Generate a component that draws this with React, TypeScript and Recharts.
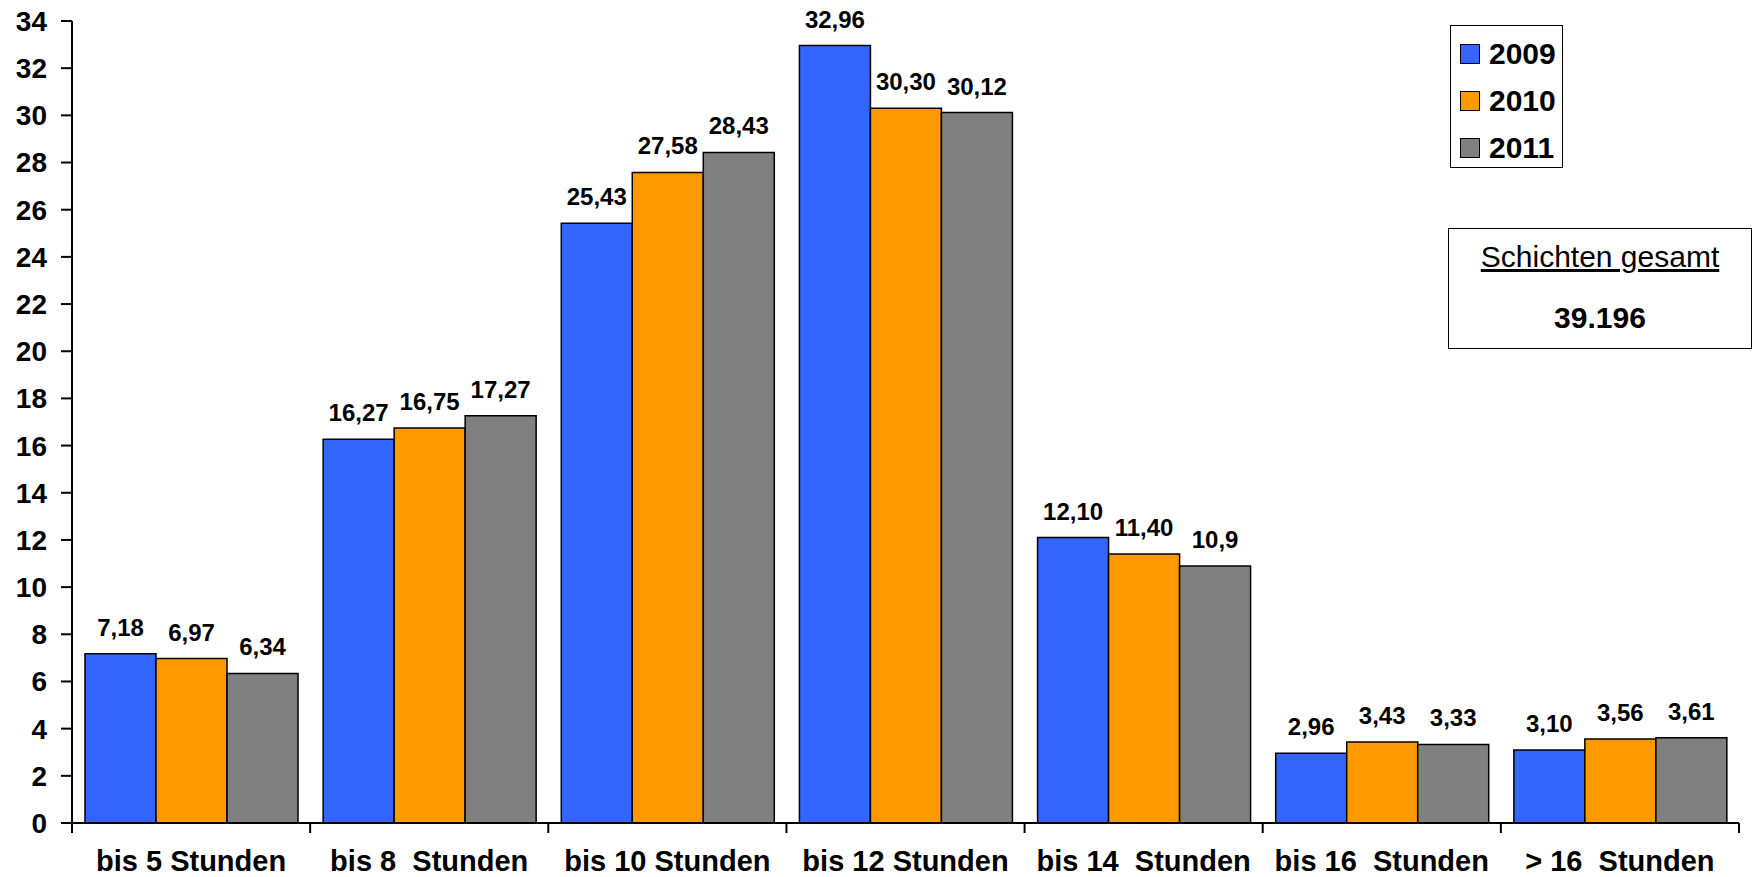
import React from 'react';
import { BarChart, Bar, XAxis, YAxis, LabelList, Legend } from 'recharts';

const categories = ['bis 5 Stunden', 'bis 8  Stunden', 'bis 10 Stunden', 'bis 12 Stunden', 'bis 14  Stunden', 'bis 16  Stunden', '> 16  Stunden'];
const values2009 = [7.18, 16.27, 25.43, 32.96, 12.1, 2.96, 3.1];
const values2010 = [6.97, 16.75, 27.58, 30.3, 11.4, 3.43, 3.56];
const values2011 = [6.34, 17.27, 28.43, 30.12, 10.9, 3.33, 3.61];
const labels2009 = ['7,18', '16,27', '25,43', '32,96', '12,10', '2,96', '3,10'];
const labels2010 = ['6,97', '16,75', '27,58', '30,30', '11,40', '3,43', '3,56'];
const labels2011 = ['6,34', '17,27', '28,43', '30,12', '10,9', '3,33', '3,61'];
const yTicks = [0, 2, 4, 6, 8, 10, 12, 14, 16, 18, 20, 22, 24, 26, 28, 30, 32, 34];
const seriesNames = ['2009', '2010', '2011'];
const seriesColors = ['#3366FF', '#FF9900', '#808080'];

const data = categories.map((c, i) => ({
  name: c,
  v2009: values2009[i],
  v2010: values2010[i],
  v2011: values2011[i],
  l2009: labels2009[i],
  l2010: labels2010[i],
  l2011: labels2011[i],
}));

const FONT = '"Liberation Sans", Arial, sans-serif';

const XTick = (props: any) => {
  const { x, y, payload, index } = props;
  const off = payload && payload.offset ? payload.offset : 0;
  return (
    <g>
      <line x1={x - off} x2={x - off} y1={y} y2={y + 10} stroke="#000" strokeWidth={2} />
      {index === categories.length - 1 && (
        <line x1={x + off} x2={x + off} y1={y} y2={y + 10} stroke="#000" strokeWidth={2} />
      )}
      <text
        x={x}
        y={y + 48}
        textAnchor="middle"
        fill="#000"
        style={{ whiteSpace: 'pre', fontSize: 29, fontWeight: 700, fontFamily: FONT }}
      >
        {payload.value}
      </text>
    </g>
  );
};

const LegendContent = () => (
  <div
    style={{
      width: 113,
      height: 143,
      border: '1.5px solid #000',
      background: '#fff',
      boxSizing: 'border-box',
      paddingTop: 4,
    }}
  >
    {seriesNames.map((n, i) => (
      <div key={n} style={{ display: 'flex', alignItems: 'center', height: 47, paddingLeft: 9 }}>
        <div style={{ width: 20, height: 20, background: seriesColors[i], border: '1.5px solid #000', boxSizing: 'border-box' }} />
        <span style={{ marginLeft: 9, fontSize: 30, fontWeight: 700, fontFamily: FONT, color: '#000', lineHeight: '34px' }}>{n}</span>
      </div>
    ))}
  </div>
);

const labelStyle = { fontSize: 24, fontWeight: 700, fontFamily: FONT, fill: '#000' };

export default function App() {
  return (
    <div style={{ position: 'absolute', left: 0, top: 0, width: 1753, height: 877, background: '#fff' }}>
      <BarChart
        width={1753}
        height={877}
        data={data}
        margin={{ top: 21, right: 14, left: 0, bottom: 0 }}
        barCategoryGap={13}
        barGap={0}
      >
        <XAxis
          dataKey="name"
          height={54}
          interval={0}
          tickLine={false}
          tickSize={0}
          tickMargin={0}
          axisLine={{ stroke: '#000', strokeWidth: 2 }}
          tick={<XTick />}
        />
        <YAxis
          width={72}
          domain={[0, 34]}
          ticks={yTicks}
          interval={0}
          tickSize={11}
          tickMargin={14}
          axisLine={{ stroke: '#000', strokeWidth: 2 }}
          tickLine={{ stroke: '#000', strokeWidth: 2 }}
          tick={{ fontSize: 28, fontWeight: 700, fontFamily: FONT, fill: '#000' }}
        />
        <Legend
          layout="vertical"
          verticalAlign="middle"
          align="center"
          content={<LegendContent />}
          wrapperStyle={{ position: 'absolute', left: 1450, top: 25, width: 113 }}
        />
        <Bar dataKey="v2009" name="2009" fill={seriesColors[0]} stroke="#000" strokeWidth={1.5} isAnimationActive={false}>
          <LabelList dataKey="l2009" position="top" offset={18} style={labelStyle} />
        </Bar>
        <Bar dataKey="v2010" name="2010" fill={seriesColors[1]} stroke="#000" strokeWidth={1.5} isAnimationActive={false}>
          <LabelList dataKey="l2010" position="top" offset={18} style={labelStyle} />
        </Bar>
        <Bar dataKey="v2011" name="2011" fill={seriesColors[2]} stroke="#000" strokeWidth={1.5} isAnimationActive={false}>
          <LabelList dataKey="l2011" position="top" offset={18} style={labelStyle} />
        </Bar>
      </BarChart>
      <div
        style={{
          position: 'absolute',
          left: 1448,
          top: 228,
          width: 304,
          height: 121,
          border: '1.5px solid #000',
          boxSizing: 'border-box',
          textAlign: 'center',
          fontFamily: FONT,
          color: '#000',
        }}
      >
        <div style={{ fontSize: 30, textDecoration: 'underline', marginTop: 11, lineHeight: '34px' }}>Schichten gesamt</div>
        <div style={{ fontSize: 30, fontWeight: 700, marginTop: 27, lineHeight: '34px' }}>39.196</div>
      </div>
    </div>
  );
}
